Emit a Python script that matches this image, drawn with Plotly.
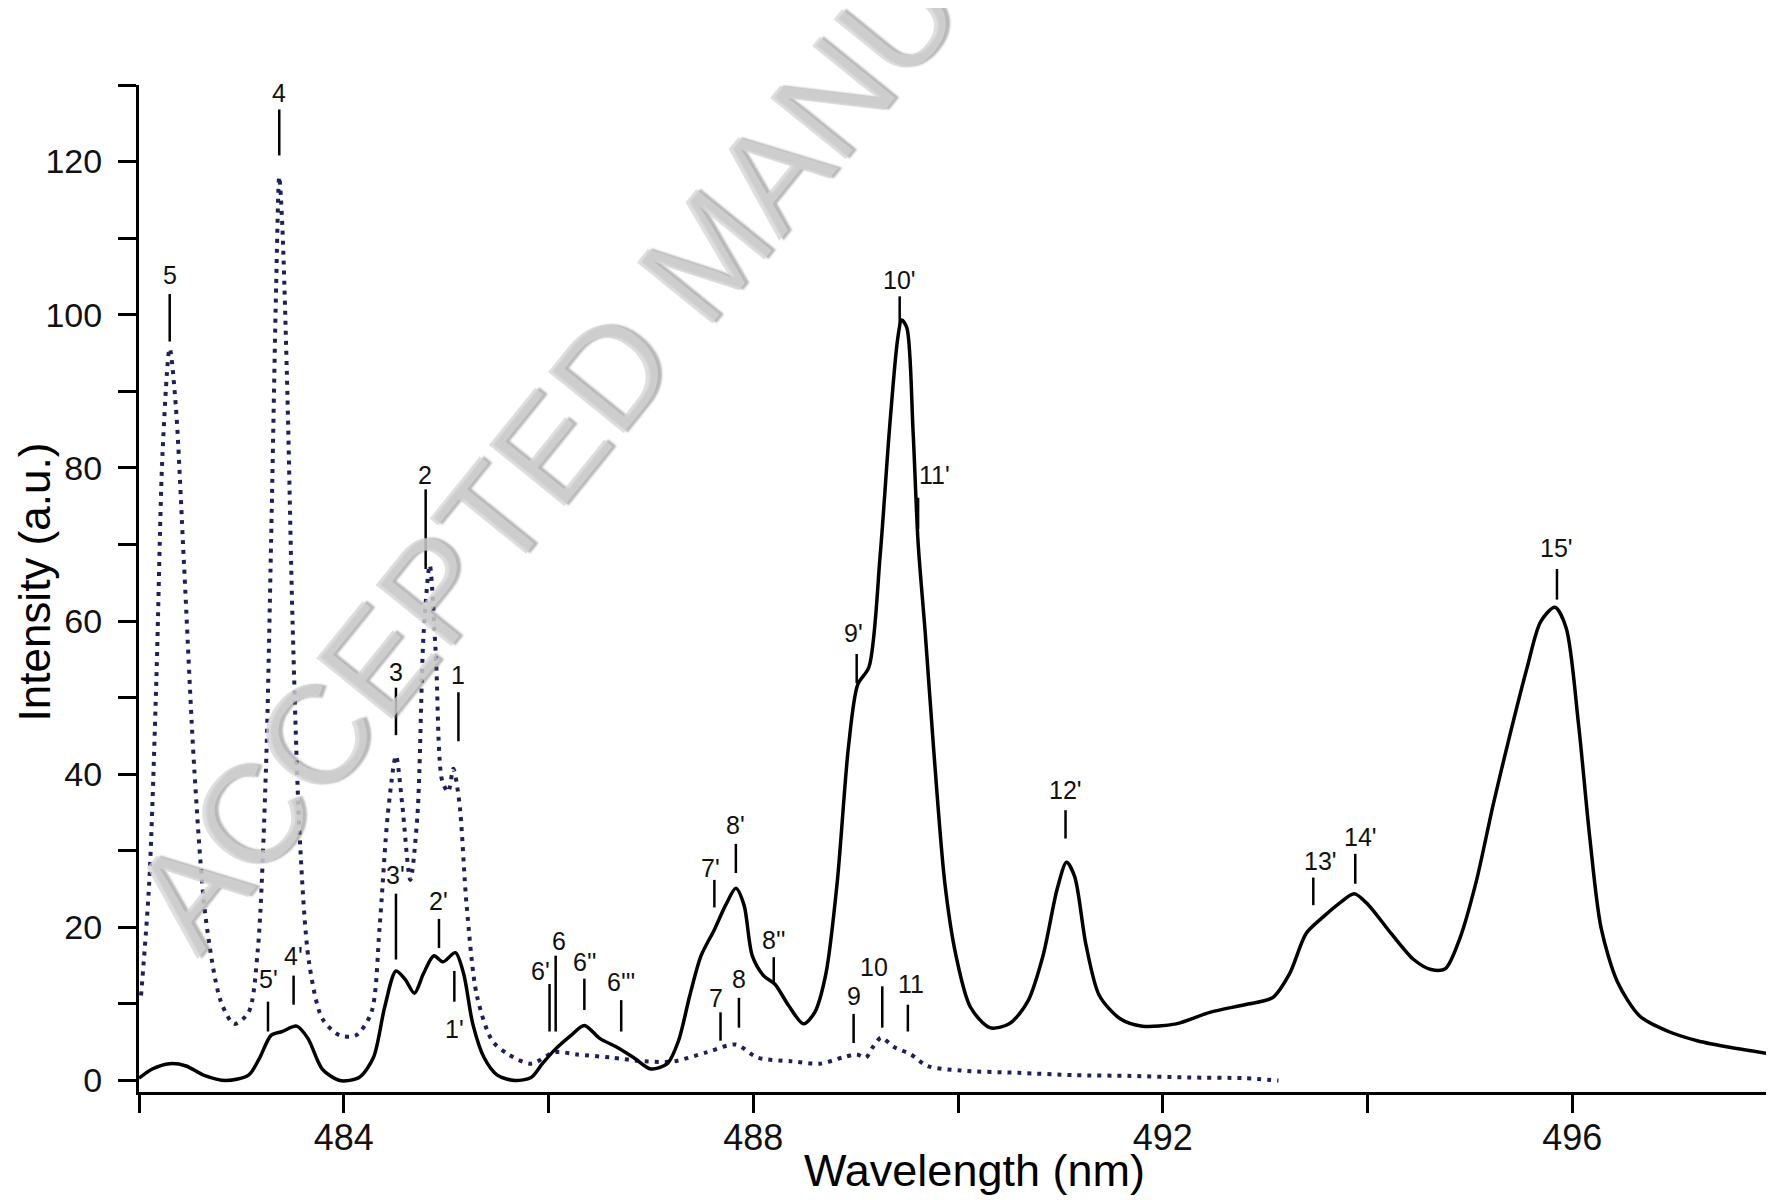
import plotly.graph_objects as go

# ---- data ----
solid_wl = [482.00, 482.13, 482.30, 482.46, 482.63, 482.85, 483.07, 483.18, 483.29, 483.40,
            483.54, 483.65, 483.79, 483.96, 484.15, 484.29, 484.40, 484.51, 484.60, 484.69,
            484.78, 484.88, 484.97, 485.09, 485.17, 485.26, 485.37, 485.50, 485.67, 485.83,
            485.94, 486.06, 486.22, 486.35, 486.50, 486.66, 486.83, 487.00, 487.16, 487.27,
            487.38, 487.49, 487.62, 487.73, 487.83, 487.91, 487.99, 488.10, 488.21, 488.34,
            488.49, 488.60, 488.71, 488.82, 488.93, 489.02, 489.13, 489.24, 489.33, 489.41,
            489.45, 489.50, 489.56, 489.61, 489.68, 489.76, 489.87, 489.98, 490.12, 490.31,
            490.50, 490.68, 490.83, 490.97, 491.06, 491.14, 491.25, 491.38, 491.58, 491.80,
            492.13, 492.46, 492.80, 493.07, 493.24, 493.40, 493.57, 493.73, 493.87, 494.01,
            494.23, 494.45, 494.62, 494.76, 494.90, 495.06, 495.23, 495.39, 495.56, 495.69,
            495.83, 495.94, 496.06, 496.17, 496.28, 496.44, 496.66, 496.94, 497.22, 497.55,
            497.97]
solid_int = [0.3, 1.5, 2.2, 1.9, 0.7, 0.0, 0.7, 3.0, 5.9, 6.4,
             7.1, 5.5, 1.5, 0.0, 0.4, 3.0, 9.6, 14.3, 13.2, 11.4,
             14.0, 16.3, 15.5, 16.7, 14.0, 7.4, 3.0, 0.7, 0.0, 0.4,
             2.2, 4.0, 5.9, 7.2, 5.5, 4.4, 3.0, 1.5, 2.2, 5.2,
             11.1, 16.3, 19.7, 22.9, 25.1, 22.9, 16.3, 13.7, 12.6, 9.9,
             7.4, 8.9, 14.0, 25.9, 43.6, 51.7, 54.0, 68.7, 85.0, 96.8,
             99.3, 98.3, 85.0, 70.2, 58.4, 43.6, 25.9, 16.3, 9.6, 6.9,
             7.4, 10.3, 16.3, 25.1, 28.5, 26.6, 17.7, 11.1, 8.1, 7.1,
             7.4, 8.9, 9.9, 10.8, 14.0, 19.2, 21.4, 23.2, 24.4, 22.9,
             19.2, 15.8, 14.5, 14.6, 18.5, 25.9, 36.2, 45.1, 54.0, 59.9,
             61.8, 59.1, 46.6, 31.8, 20.0, 12.9, 8.4, 6.4, 5.2, 4.3,
             3.4]

dotted_wl = [482.02, 482.10, 482.17, 482.23, 482.30, 482.36, 482.44, 482.54, 482.65, 482.80,
             482.93, 483.07, 483.16, 483.24, 483.29, 483.34, 483.37, 483.40, 483.45, 483.50,
             483.57, 483.66, 483.79, 483.96, 484.12, 484.27, 484.35, 484.43, 484.51, 484.57,
             484.65, 484.72, 484.78, 484.84, 484.90, 484.96, 485.02, 485.07, 485.13, 485.20,
             485.30, 485.45, 485.61, 485.83, 486.06, 486.28, 486.61, 486.94, 487.22, 487.55,
             487.83, 488.04, 488.38, 488.65, 488.87, 489.01, 489.10, 489.17, 489.25, 489.37,
             489.54, 489.70, 490.03, 490.59, 491.14, 491.69, 492.24, 492.80, 493.13]
dotted_int = [11.1, 25.9, 52.5, 82.0, 95.6, 88.0, 67.3, 40.7, 21.4, 10.3,
              7.4, 8.9, 17.0, 40.7, 70.2, 104.0, 118.0, 111.6, 89.4, 59.9,
              31.8, 15.5, 8.1, 5.9, 5.9, 8.9, 20.0, 34.7, 42.4, 36.2,
              26.2, 34.7, 58.4, 67.3, 55.4, 39.2, 37.7, 40.7, 36.2, 22.9,
              11.1, 5.2, 3.4, 2.2, 3.7, 3.4, 3.0, 2.5, 2.5, 3.7,
              4.7, 3.0, 2.5, 2.2, 3.0, 3.4, 3.0, 4.4, 5.6, 4.4,
              3.4, 1.9, 1.3, 1.0, 0.7, 0.6, 0.4, 0.3, 0.0]

# peak labels: text, marker wavelength, text wavelength, text intensity, marker top, marker bottom
lbl_text = ["5", "4", "3", "2", "1", "3'", "2'", "1'", "5'", "4'",
            "6'", "6", "6''", "6'''", "7'", "8'", "8''", "7", "8", "9'",
            "10'", "11'", "12'", "13'", "14'", "15'", "9", "10", "11"]
lbl_wl = [482.30, 483.37, 484.51, 484.80, 485.12, 484.51, 484.93, 485.08, 483.26, 483.51,
          486.01, 486.07, 486.35, 486.71, 487.62, 487.83, 488.20, 487.68, 487.86, 489.01,
          489.43, 489.61, 491.05, 493.47, 493.88, 495.85, 488.98, 489.26, 489.51]
lbl_text_wl = [482.30, 483.37, 484.51, 484.79, 485.12, 484.51, 484.93, 485.08, 483.26, 483.51,
               485.92, 486.10, 486.35, 486.71, 487.58, 487.83, 488.20, 487.64, 487.86, 488.98,
               489.43, 489.77, 491.05, 493.54, 493.93, 495.85, 488.98, 489.18, 489.54]
lbl_text_int = [105.2, 128.9, 53.4, 79.1, 52.9, 26.9, 23.4, 6.7, 13.3, 16.3,
                14.3, 18.2, 15.5, 12.9, 27.8, 33.4, 18.3, 10.8, 13.2, 58.5,
                104.5, 79.1, 38.0, 28.7, 31.8, 69.5, 11.1, 14.8, 12.6]
lbl_top = [102.7, 126.8, 51.3, 77.2, 50.7, 24.4, 21.1, 14.3, 10.3, 13.7,
           12.6, 16.3, 13.3, 10.5, 26.2, 30.9, 16.1, 8.9, 10.8, 55.7,
           102.4, 76.1, 35.3, 26.5, 29.6, 66.8, 8.7, 12.3, 9.9]
lbl_bot = [96.5, 120.8, 45.1, 66.8, 44.3, 15.8, 17.3, 10.3, 6.4, 9.9,
           6.4, 6.4, 9.2, 6.4, 22.6, 27.1, 12.6, 5.2, 6.9, 51.9,
           98.6, 72.0, 31.6, 22.9, 25.7, 62.8, 4.9, 6.9, 6.4]

x_ticks = [482, 484, 486, 488, 490, 492, 494, 496]
x_labels = ["", "484", "", "488", "", "492", "", "496"]
y_ticks = list(range(0, 131, 10))
y_labels = [str(v) if v % 20 == 0 else "" for v in y_ticks]

# ---- figure ----
FONT = "Liberation Sans, Arial, sans-serif"
fig = go.Figure()

fig.add_trace(go.Scatter(
    x=dotted_wl, y=dotted_int, mode="lines",
    line=dict(color="#1f1f5c", width=4, dash="4px,6px", shape="spline", smoothing=0.8),
    showlegend=False, hoverinfo="skip"))

fig.add_trace(go.Scatter(
    x=solid_wl, y=solid_int, mode="lines",
    line=dict(color="#000000", width=3.5, shape="spline", smoothing=0.8),
    showlegend=False, hoverinfo="skip"))

# label marker ticks
mx, my = [], []
for w, t, b in zip(lbl_wl, lbl_top, lbl_bot):
    mx += [w, w, None]
    my += [b, t, None]
fig.add_trace(go.Scatter(x=mx, y=my, mode="lines",
                         line=dict(color="#000000", width=2.5),
                         showlegend=False, hoverinfo="skip"))

annotations = []

# watermark (first, so the peak labels are drawn over it)
annotations.append(dict(x=0.347, y=0.833, xref="paper", yref="paper",
                        text="ACCEPTED MANUSCRIPT", showarrow=False, textangle=-51,
                        xanchor="center", yanchor="middle",
                        font=dict(family=FONT, size=141, color="rgba(212,212,212,0.75)",
                                  shadow="3px 3px 2px rgba(120,120,120,0.7)")))

for txt, w, yv in zip(lbl_text, lbl_text_wl, lbl_text_int):
    annotations.append(dict(x=w, y=yv, xref="x", yref="y", text=txt, showarrow=False,
                            xanchor="center", yanchor="middle",
                            font=dict(family=FONT, size=25, color="#111111")))

# axis titles
annotations.append(dict(x=0.511, y=-0.0775, xref="paper", yref="paper",
                        text="Wavelength (nm)", showarrow=False,
                        xanchor="center", yanchor="middle",
                        font=dict(family=FONT, size=45, color="#000000")))
annotations.append(dict(x=-0.0642, y=0.506, xref="paper", yref="paper",
                        text="Intensity (a.u.)", showarrow=False, textangle=-90,
                        xanchor="center", yanchor="middle",
                        font=dict(family=FONT, size=44, color="#000000")))

# page body has an 8px margin: shrink the figure so the plot area lands where the reference has it
fig.update_layout(
    width=1766, height=1192,
    margin=dict(l=131, r=0, t=77, b=108),
    paper_bgcolor="white", plot_bgcolor="white",
    annotations=annotations,
    xaxis=dict(range=[482, 497.97], tickmode="array", tickvals=x_ticks, ticktext=x_labels,
               showgrid=False, zeroline=False, showline=True, linecolor="black", linewidth=3,
               ticks="outside", ticklen=18, tickwidth=3, tickcolor="black",
               ticklabelstandoff=-6,
               tickfont=dict(family=FONT, size=36, color="#111111")),
    yaxis=dict(range=[-1.5, 130], tickmode="array", tickvals=y_ticks, ticktext=y_labels,
               showgrid=False, zeroline=False, showline=True, linecolor="black", linewidth=3,
               ticks="outside", ticklen=18, tickwidth=3, tickcolor="black",
               ticklabelstandoff=9,
               tickfont=dict(family=FONT, size=34, color="#111111")),
)

fig.write_html("out.html")
